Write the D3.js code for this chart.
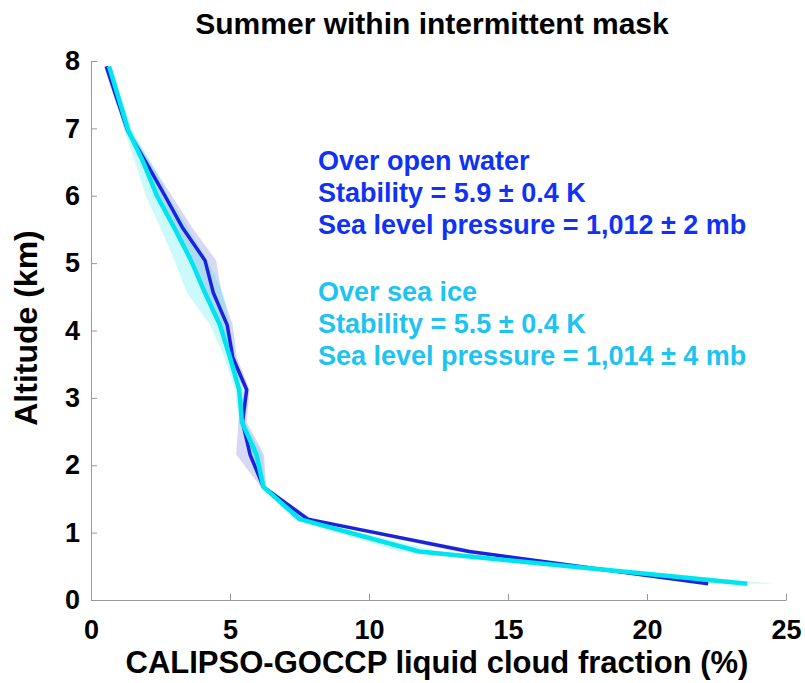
<!DOCTYPE html>
<html>
<head>
<meta charset="utf-8">
<script src="https://cdn.jsdelivr.net/npm/d3@7"></script>
<style>
  body { margin: 0; background: #fff; }
  svg { font-family: "Liberation Sans", Arial, sans-serif; font-weight: bold; }
</style>
</head>
<body>
<svg id="chart"></svg>
<script>
// CALIPSO-GOCCP levels (km)
var altitude = [0.24, 0.72, 1.20, 1.68, 2.16, 2.64, 3.12, 3.60, 4.08, 4.56, 5.04, 5.52, 6.00, 6.48, 6.96, 7.44, 7.92];

// over open water (mean and spread, %)
var waterMean   = [22.2, 13.6, 7.8, 6.2, 5.72, 5.45, 5.6, 5.1, 4.9, 4.4, 4.1, 3.3, 2.66, 2.0, 1.33, 0.93, 0.55];
var waterSpread = [0.2, 0.45, 0.15, 0.1, 0.5, 0.15, 0.1, 0.15, 0.2, 0.3, 0.4, 0.35, 0.25, 0.15, 0.1, 0.08, 0.08];

// over sea ice
var iceMean   = [23.6, 11.8, 7.5, 6.2, 5.95, 5.43, 5.33, 5.0, 4.64, 4.1, 3.6, 3.0, 2.37, 1.9, 1.35, 1.0, 0.65];
var iceSpread = [1.0, 0.7, 0.2, 0.1, 0.2, 0.1, 0.15, 0.2, 0.35, 0.65, 0.6, 0.5, 0.4, 0.3, 0.15, 0.1, 0.08];

var xTicks = [0, 5, 10, 15, 20, 25];
var yTicks = [0, 1, 2, 3, 4, 5, 6, 7, 8];

var waterLabels = ['Over open water', 'Stability = 5.9 \u00b1 0.4 K', 'Sea level pressure = 1,012 \u00b1 2 mb'];
var iceLabels = ['Over sea ice', 'Stability = 5.5 \u00b1 0.4 K', 'Sea level pressure = 1,014 \u00b1 4 mb'];

var width = 805, height = 683;
var axisColor = '#999';

var svg = d3.select('#chart').attr('width', width).attr('height', height);

var x = d3.scaleLinear().domain([0, 25]).range([91, 786]);
var y = d3.scaleLinear().domain([0, 8]).range([600, 61]);

function rows(mean, spread) {
	return altitude.map((a, i) => ({alt: a, m: mean[i], s: spread[i]}));
}
var water = rows(waterMean, waterSpread);
var ice = rows(iceMean, iceSpread);

var band = d3.area()
	.y(d => y(d.alt))
	.x0(d => x(d.m - d.s))
	.x1(d => x(d.m + d.s));

var line = d3.line()
	.x(d => x(d.m))
	.y(d => y(d.alt));

svg.append('path').datum(water).attr('d', band)
	.attr('fill', '#6464d2').attr('fill-opacity', 0.25);
svg.append('path').datum(ice).attr('d', band)
	.attr('fill', '#00e6e6').attr('fill-opacity', 0.2);

svg.append('path').datum(water).attr('d', line)
	.attr('fill', 'none').attr('stroke', '#1a22dc').attr('stroke-width', 3.5)
	.attr('stroke-linejoin', 'round');
svg.append('path').datum(ice).attr('d', line)
	.attr('fill', 'none').attr('stroke', '#00e4f0').attr('stroke-width', 4.5)
	.attr('stroke-linejoin', 'round');

// axes (ticks point inward)
var xAxis = svg.append('g')
	.attr('transform', 'translate(0,600)')
	.call(d3.axisBottom(x).tickValues(xTicks).tickSize(-6).tickSizeOuter(0).tickPadding(20));
var yAxis = svg.append('g')
	.attr('transform', 'translate(91,0)')
	.call(d3.axisLeft(y).tickValues(yTicks).tickSize(-6).tickSizeOuter(0).tickPadding(11));

[xAxis, yAxis].forEach(g => {
	g.select('.domain').attr('stroke', axisColor);
	g.selectAll('.tick line').attr('stroke', axisColor);
	g.selectAll('.tick text')
		.attr('fill', '#000')
		.style('font-size', '27px')
		.style('font-weight', 'bold')
		.style('font-family', '"Liberation Sans", Arial, sans-serif');
});
xAxis.selectAll('.tick text').attr('dy', '0.71em');

// title
svg.append('text')
	.attr('x', 432).attr('y', 34)
	.attr('text-anchor', 'middle')
	.style('font-size', '30px')
	.text('Summer within intermittent mask');

// x label
svg.append('text')
	.attr('x', 437).attr('y', 673)
	.attr('text-anchor', 'middle')
	.style('font-size', '31px')
	.text('CALIPSO-GOCCP liquid cloud fraction (%)');

// y label
svg.append('text')
	.attr('transform', 'translate(37,328) rotate(-90)')
	.attr('text-anchor', 'middle')
	.style('font-size', '32px')
	.text('Altitude (km)');

// annotation
svg.append('g').selectAll('text')
	.data(waterLabels).enter().append('text')
	.attr('x', 318).attr('y', (d, i) => 170 + i * 32)
	.attr('fill', '#0f32f5')
	.style('font-size', '27px')
	.text(d => d);

svg.append('g').selectAll('text')
	.data(iceLabels).enter().append('text')
	.attr('x', 318).attr('y', (d, i) => 301 + i * 32)
	.attr('fill', '#1ec3f0')
	.style('font-size', '27px')
	.text(d => d);
</script>
</body>
</html>
